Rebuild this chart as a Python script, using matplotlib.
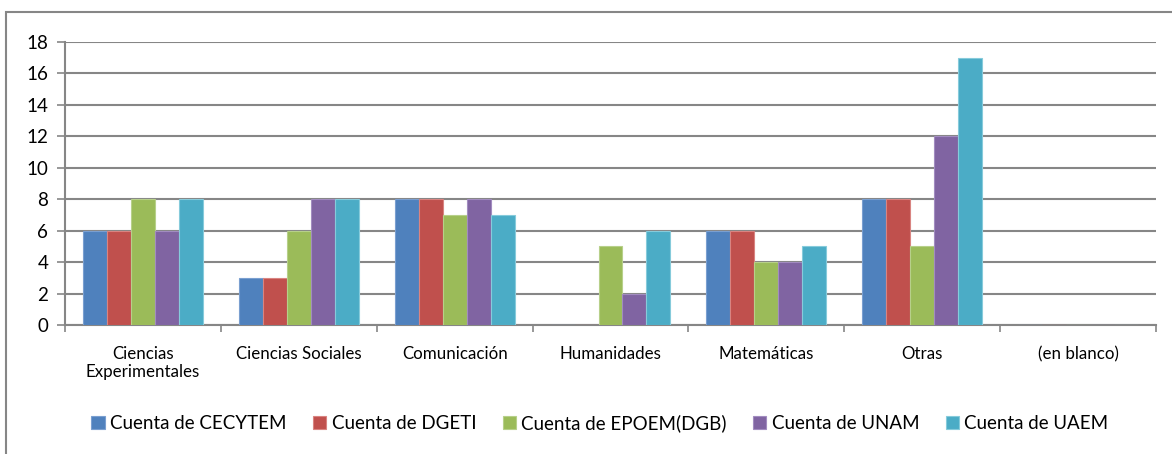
"""
Clustered bar chart: counts per area and school system
"""
# IMPORTS
import numpy as np
import matplotlib.pyplot as plt

from matplotlib.patches import Rectangle

# VARIABLES
categories = ['Ciencias\nExperimentales', 'Ciencias Sociales', 'Comunicación',
              'Humanidades', 'Matemáticas', 'Otras', '(en blanco)']
series_names = ['Cuenta de CECYTEM', 'Cuenta de DGETI', 'Cuenta de EPOEM(DGB)',
                'Cuenta de UNAM', 'Cuenta de UAEM']
cecytem = [6, 3, 8, 0, 6, 8, 0]
dgeti = [6, 3, 8, 0, 6, 8, 0]
epoem = [8, 6, 7, 5, 4, 5, 0]
unam = [6, 8, 8, 2, 4, 12, 0]
uaem = [8, 8, 7, 6, 5, 17, 0]
y_ticks = [0, 2, 4, 6, 8, 10, 12, 14, 16, 18]

colors = ['#4F81BD', '#C0504D', '#9BBB59', '#8064A2', '#4BACC6']
edge_colors = ['#7A9FD0', '#D98481', '#B7D08A', '#A28CC0', '#86CBDB']

plt.rcParams['font.family'] = ['Lato', 'DejaVu Sans']

# EXECUTION
W, H, dpi = 1172, 454, 100
fig = plt.figure(figsize=(W / dpi, H / dpi), dpi=dpi)

# chart frame, cut off on the right and bottom like the original
fig.patches.append(Rectangle((6 / W, -0.1), 1.2, (H - 12) / H + 0.1,
                             transform=fig.transFigure, fill=False,
                             edgecolor='#868686', linewidth=1.5))

ax = fig.add_axes([65 / W, (H - 325) / H, (1156 - 65) / W, (325 - 42) / H])

x = np.arange(len(categories))
n = len(series_names)
bar_w = 1 / (n + 1.5)
all_values = [cecytem, dgeti, epoem, unam, uaem]

for i, (name, vals) in enumerate(zip(series_names, all_values)):
    offset = (i - (n - 1) / 2) * bar_w
    ax.bar(x + offset, vals, width=bar_w, color=colors[i],
           edgecolor=edge_colors[i], linewidth=0.8, label=name, zorder=3)

ax.set_xlim(-0.5, len(categories) - 0.5)
ax.set_ylim(0, 18)
ax.set_yticks(y_ticks)
ax.set_yticklabels([str(v) for v in y_ticks], fontsize=13.5)
ax.yaxis.grid(True, color='#868686', linewidth=1.5, zorder=0)

# category labels between ticks at category boundaries
ax.set_xticks(np.arange(len(categories) + 1) - 0.5)
ax.set_xticklabels([])
ax.set_xticks(x, minor=True)
ax.set_xticklabels(categories, minor=True, fontsize=12.2)
ax.tick_params(axis='x', which='minor', length=0, pad=15)
ax.tick_params(axis='x', which='major', length=5, color='#868686', width=1.2)
ax.tick_params(axis='y', length=6, color='#868686', width=1.2, pad=6)

for side in ['top', 'right']:
    ax.spines[side].set_visible(False)
for side in ['left', 'bottom']:
    ax.spines[side].set_color('#868686')
    ax.spines[side].set_linewidth(1.5)

ax.legend(loc='center', bbox_to_anchor=(600 / W, (H - 423) / H),
          bbox_transform=fig.transFigure, ncol=5, frameon=False,
          fontsize=13.5, handlelength=0.7, handleheight=0.7,
          handletextpad=0.3, columnspacing=1.4)

# OUTPUT
fig.savefig('out.png', dpi=dpi, facecolor='white')
